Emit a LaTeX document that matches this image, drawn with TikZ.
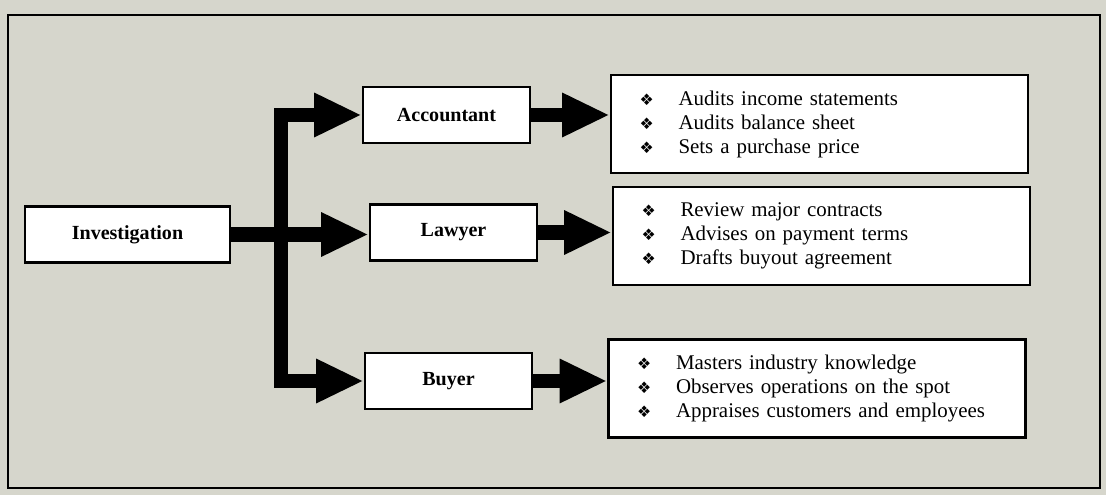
\documentclass[tikz,border=0pt]{standalone}
\usepackage{fontspec}
\setmainfont{Liberation Serif}
\newfontfamily\symfont{DejaVu Sans}
\usetikzlibrary{arrows.meta}
\definecolor{paper}{RGB}{214,214,204}
\newcommand{\bul}{\makebox[0.78cm][l]{\symfont\small\char"2756}}
\tikzset{
  role/.style={draw,line width=1.5pt,fill=white,minimum width=3.34cm,minimum height=1.12cm,
    font=\fontsize{11.4}{13}\selectfont\bfseries},
  duties/.style={draw,line width=1.5pt,fill=white,text width=7.2cm,inner xsep=0.57cm,
    minimum height=1.96cm,align=left,font=\fontsize{11.9}{13.66}\selectfont},
  fatline/.style={line width=8pt,black},
  fatarrow/.style={fatline,-{Triangle[length=0.95cm,width=0.82cm]}}
}
\begin{document}
\begin{tikzpicture}
  % Paper and frame
  \fill[paper] (0,0) rectangle (22.12,9.9);
  \useasboundingbox (0,0) rectangle (22.12,9.9);
  \draw[line width=1.2pt] (0.16,9.6) rectangle (22.0,0.14);

  % Boxes
  \node[role,minimum width=4.1cm] (inv) at (2.55,5.21) {Investigation};
  \node[role] (acc) at (8.93,7.6) {Accountant};
  \node[role] (law) at (9.07,5.25) {Lawyer};
  \node[role] (buy) at (8.97,2.28) {Buyer};

  \node[duties] (accjob) at (16.39,7.42) {\bul Audits income statements\\ \bul Audits balance sheet\\ \bul Sets a purchase price};
  \node[duties] (lawjob) at (16.43,5.18) {\bul Review major contracts\\ \bul Advises on payment terms\\ \bul Drafts buyout agreement};
  \node[duties] (buyjob) at (16.34,2.13) {\bul Masters industry knowledge\\ \bul Observes operations on the spot\\ \bul Appraises customers and employees};

  % Split point of the trunk
  \coordinate (split) at (5.62,0 |- inv.east);

  % Arrows
  \draw[fatarrow] (inv.east) -- (inv.east -| law.west);
  \draw[fatarrow] (split) |- (acc.west);
  \draw[fatarrow] (split) |- (buy.west);
  \draw[fatarrow] (acc.east) -- (acc.east -| accjob.west);
  \draw[fatarrow] (law.east) -- (law.east -| lawjob.west);
  \draw[fatarrow] (buy.east) -- (buy.east -| buyjob.west);
\end{tikzpicture}
\end{document}
